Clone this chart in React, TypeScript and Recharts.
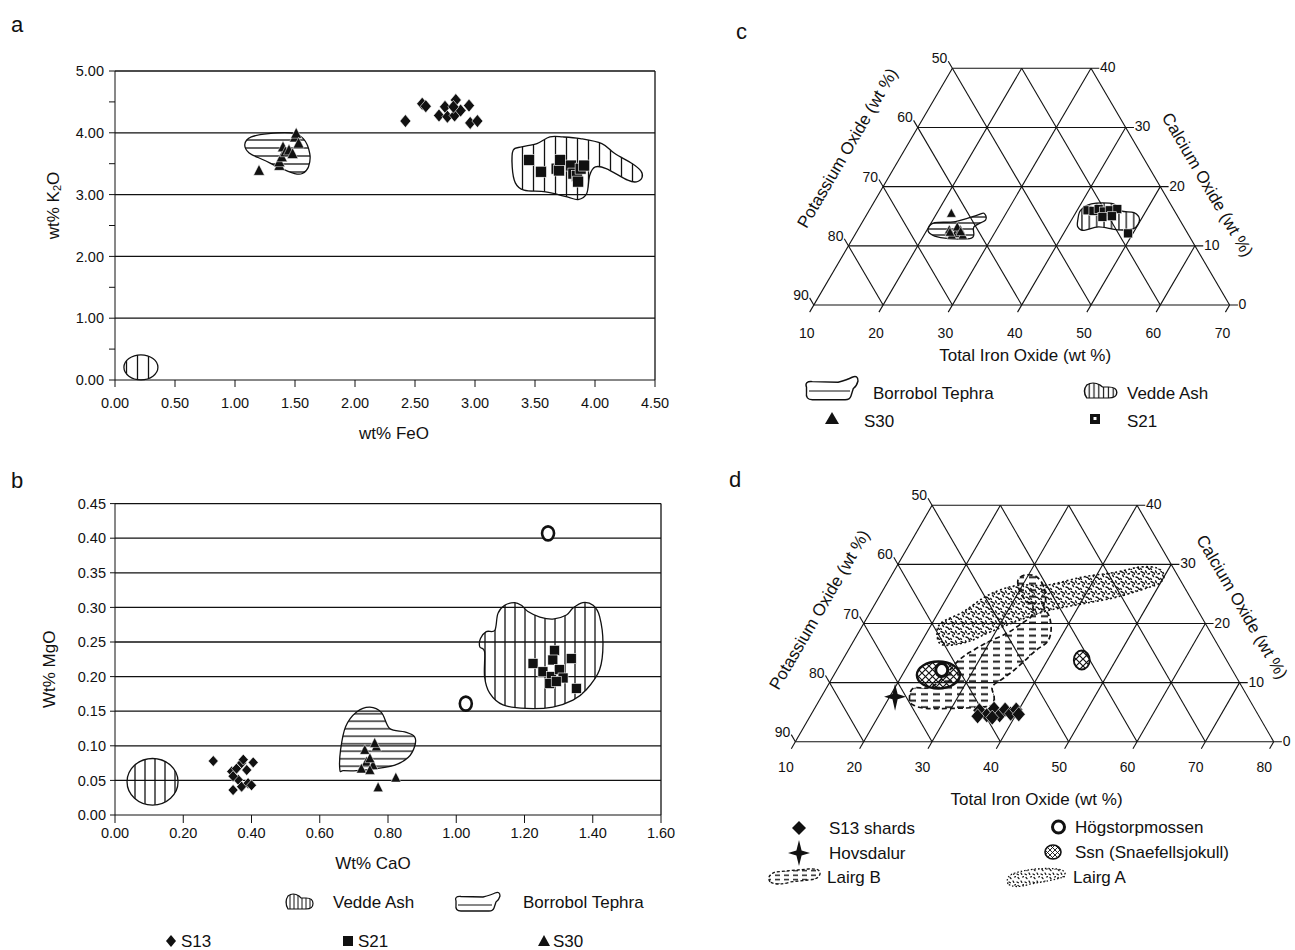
import React from 'react';
import { ScatterChart, Scatter, XAxis, YAxis, ReferenceLine, ReferenceDot } from 'recharts';

const FONT = '"Liberation Sans", Arial, Helvetica, sans-serif';
const INK = '#111';

type Pt = [number, number];

// ---------- panel a: K2O vs FeO (wt%)
const aFeoTicks = [0, 0.5, 1, 1.5, 2, 2.5, 3, 3.5, 4, 4.5];
const aK2oTicks = [0, 0.5, 1, 1.5, 2, 2.5, 3, 3.5, 4, 4.5, 5];
const aGridLines = [1, 2, 3, 4, 5];
const aS13: Pt[] = [[2.42, 4.19], [2.56, 4.47], [2.59, 4.43], [2.7, 4.28], [2.75, 4.42], [2.77, 4.26], [2.83, 4.28], [2.84, 4.53], [2.88, 4.36], [2.95, 4.44], [2.96, 4.16], [3.02, 4.19], [2.82, 4.42]];
const aS30: Pt[] = [[1.2, 3.39], [1.37, 3.47], [1.37, 3.53], [1.39, 3.61], [1.4, 3.77], [1.42, 3.69], [1.45, 3.72], [1.48, 3.66], [1.5, 3.93], [1.51, 3.99], [1.53, 3.83]];
const aS21: Pt[] = [[3.45, 3.56], [3.55, 3.37], [3.68, 3.42], [3.7, 3.39], [3.71, 3.56], [3.8, 3.47], [3.82, 3.34], [3.85, 3.3], [3.86, 3.21], [3.88, 3.42], [3.91, 3.47]];
const aBorrobol: Pt[] = [[1.082, 3.815], [1.136, 3.933], [1.28, 3.987], [1.461, 3.998], [1.569, 3.906], [1.623, 3.664], [1.612, 3.448], [1.561, 3.341], [1.497, 3.341], [1.388, 3.421], [1.244, 3.556], [1.118, 3.675]];
const aVedde: Pt[] = [[3.318, 3.718], [3.39, 3.772], [3.516, 3.825], [3.624, 3.933], [3.732, 3.933], [3.877, 3.906], [4.057, 3.825], [4.165, 3.664], [4.309, 3.502], [4.382, 3.384], [4.392, 3.276], [4.345, 3.206], [4.273, 3.233], [4.093, 3.421], [4.003, 3.448], [3.956, 3.314], [3.931, 3.017], [3.859, 2.92], [3.768, 2.963], [3.588, 3.044], [3.408, 3.071], [3.336, 3.19], [3.31, 3.448]];
const aVeddeLow: Pt[] = [[0.216, 0.205]];

// ---------- panel b: MgO vs CaO (wt%)
const bCaoTicks = [0, 0.2, 0.4, 0.6, 0.8, 1, 1.2, 1.4, 1.6];
const bMgoTicks = [0, 0.05, 0.1, 0.15, 0.2, 0.25, 0.3, 0.35, 0.4, 0.45];
const bS13: Pt[] = [[0.288, 0.078], [0.346, 0.036], [0.342, 0.063], [0.356, 0.067], [0.371, 0.075], [0.376, 0.08], [0.386, 0.065], [0.405, 0.076], [0.361, 0.051], [0.371, 0.041], [0.39, 0.046], [0.4, 0.043], [0.346, 0.056]];
const bS30: Pt[] = [[0.732, 0.094], [0.766, 0.099], [0.761, 0.104], [0.737, 0.077], [0.722, 0.067], [0.756, 0.072], [0.747, 0.065], [0.747, 0.082], [0.771, 0.04], [0.823, 0.054]];
const bS21: Pt[] = [[1.225, 0.219], [1.254, 0.207], [1.279, 0.2], [1.288, 0.238], [1.283, 0.224], [1.274, 0.19], [1.303, 0.21], [1.313, 0.198], [1.337, 0.226], [1.352, 0.183], [1.293, 0.193]];
const bBorrobol: Pt[] = [[0.659, 0.065], [0.661, 0.094], [0.676, 0.128], [0.708, 0.149], [0.747, 0.156], [0.781, 0.148], [0.805, 0.125], [0.849, 0.12], [0.878, 0.113], [0.878, 0.099], [0.859, 0.083], [0.82, 0.072], [0.766, 0.067], [0.708, 0.064], [0.669, 0.064]];
const bVedde: Pt[] = [[1.088, 0.265], [1.071, 0.255], [1.069, 0.243], [1.083, 0.236], [1.083, 0.2], [1.098, 0.176], [1.137, 0.159], [1.206, 0.154], [1.283, 0.156], [1.342, 0.166], [1.381, 0.181], [1.42, 0.21], [1.43, 0.248], [1.42, 0.287], [1.401, 0.303], [1.371, 0.307], [1.342, 0.299], [1.323, 0.289], [1.283, 0.283], [1.245, 0.286], [1.21, 0.294], [1.191, 0.303], [1.171, 0.307], [1.142, 0.303], [1.122, 0.291], [1.113, 0.267]];
const bVeddeLow: Pt[] = [[0.11, 0.048]];
const bOpen: Pt[] = [[1.269, 0.407], [1.028, 0.161]];

// ---------- panel c: ternary, points as [FeO, CaO] (K2O = 100 - FeO - CaO)
const cFeTicks = [10, 20, 30, 40, 50, 60, 70];
const cCaTicks = [0, 10, 20, 30, 40];
const cKTicks = [90, 80, 70, 60, 50];
const cS30: Pt[] = [[22.1, 15.5], [23.2, 12.7], [24.4, 12.1], [24.8, 12.7], [24.0, 11.8], [25.6, 11.8], [24.1, 13.2], [23.5, 12.3], [25.0, 12.4]];
const cS21: Pt[] = [[41.5, 16.0], [42.4, 15.9], [43.0, 16.2], [44.0, 15.8], [44.7, 16.0], [45.7, 16.2], [44.2, 14.9], [45.5, 15.0], [49.3, 12.1]];
const cBorrobol: Pt[] = [[20.0, 13.1], [20.5, 13.9], [23.4, 14.1], [26.0, 15.2], [26.8, 15.5], [27.6, 14.4], [26.5, 13.2], [27.1, 11.3], [22.6, 11.4], [20.7, 12.1]];
const cVedde: Pt[] = [[40.9, 14.4], [40.5, 16.0], [41.5, 17.1], [44.7, 17.1], [46.4, 15.9], [48.4, 15.6], [49.8, 14.4], [49.7, 12.9], [47.5, 12.7], [44.5, 13.2], [42.7, 12.6], [41.5, 13.2]];

// ---------- panel d: ternary, points as [FeO, CaO]
const dFeTicks = [10, 20, 30, 40, 50, 60, 70, 80];
const dCaTicks = [0, 10, 20, 30, 40];
const dKTicks = [90, 80, 70, 60, 50];
const dS13: Pt[] = [[34.27, 5.31], [35.77, 4.47], [36.28, 5.59], [37.65, 4.47], [37.98, 5.43], [39.13, 4.75], [39.6, 5.43], [40.37, 4.64], [34.51, 4.31], [36.77, 4.08]];
const dHovsdalur: Pt[] = [[20.78, 7.61]];
const dHogstorp: Pt[] = [[25.35, 12.13]];
const dSsnField: Pt[] = [[25.28, 11.29]];
const dSsn: Pt[] = [[45.0, 13.82]];
const dLairgA: Pt[] = [[21.7, 18.05], [21.27, 20.08], [23.55, 21.95], [25.3, 24.31], [27.11, 25.67], [29.61, 26.51], [33.56, 26.51], [38.15, 27.87], [42.71, 28.71], [45.65, 29.56], [48.22, 29.39], [49.84, 28.21], [49.94, 26.85], [48.45, 26.01], [44.83, 24.48], [40.94, 23.47], [37.41, 22.63], [35.26, 21.95], [32.57, 20.59], [29.2, 18.56], [26.67, 16.87], [23.42, 16.36]];
const dLairgB: Pt[] = [[23.17, 7.06], [22.72, 9.04], [25.49, 9.42], [27.05, 13.82], [28.36, 15.52], [29.81, 16.92], [31.8, 18.34], [33.11, 20.03], [33.9, 21.15], [33.31, 22.84], [31.67, 23.98], [30.17, 25.38], [28.9, 27.36], [29.56, 28.21], [31.31, 27.92], [33.24, 26.23], [34.63, 23.98], [34.93, 22.84], [36.59, 21.15], [37.97, 18.9], [38.43, 16.92], [37.51, 15.52], [36.75, 13.82], [35.98, 12.13], [35.07, 10.73], [34.17, 9.31], [35.28, 7.61], [35.72, 6.21], [33.74, 5.82], [30.61, 5.65], [26.29, 5.65], [24.14, 6.21]];

// ---------- helpers
const xy = (p: Pt[]) => p.map(([x, y]) => ({ x, y }));
const tern1 = ([fe, ca]: Pt) => ({ x: fe + ca / 2, y: ca });
const tern = (p: Pt[]) => p.map(tern1);

function smoothClosed(pts: { x: number; y: number }[]) {
  const n = pts.length;
  if (!n) return '';
  let d = `M${pts[0].x},${pts[0].y}`;
  for (let i = 0; i < n; i++) {
    const p0 = pts[(i - 1 + n) % n];
    const p1 = pts[i];
    const p2 = pts[(i + 1) % n];
    const p3 = pts[(i + 2) % n];
    d += `C${p1.x + (p2.x - p0.x) / 6},${p1.y + (p2.y - p0.y) / 6} ${p2.x - (p3.x - p1.x) / 6},${p2.y - (p3.y - p1.y) / 6} ${p2.x},${p2.y}`;
  }
  return d + 'Z';
}

const none = () => <g />;
const diamond = (w: number, h: number) => (p: any) => (
  <path d={`M${p.cx},${p.cy - h}L${p.cx + w},${p.cy}L${p.cx},${p.cy + h}L${p.cx - w},${p.cy}Z`} fill={INK} stroke="#fff" strokeWidth={0.6} />
);
const square = (s: number) => (p: any) => (
  <rect x={p.cx - s} y={p.cy - s} width={2 * s} height={2 * s} fill={INK} stroke="#fff" strokeWidth={0.6} />
);
const triangle = (w: number, h: number) => (p: any) => (
  <path d={`M${p.cx},${p.cy - h}L${p.cx + w},${p.cy + h * 0.8}L${p.cx - w},${p.cy + h * 0.8}Z`} fill={INK} stroke="#fff" strokeWidth={0.5} />
);
const ellipse = (rx: number, ry: number, fill: string, sw = 1.3) => (p: any) => (
  <ellipse cx={p.cx} cy={p.cy} rx={rx} ry={ry} fill={fill} stroke={INK} strokeWidth={sw} />
);
const star = (p: any) => (
  <path
    d={`M${p.cx},${p.cy - 13}L${p.cx + 2.6},${p.cy - 2.6}L${p.cx + 11},${p.cy}L${p.cx + 2.6},${p.cy + 2.6}L${p.cx},${p.cy + 14}L${p.cx - 2.6},${p.cy + 2.6}L${p.cx - 11},${p.cy}L${p.cx - 2.6},${p.cy - 2.6}Z`}
    fill={INK}
  />
);
const blob = (fill: string, dash?: string, sw = 1.3) => (lp: any) => (
  <path d={smoothClosed(lp.points || [])} fill={fill} stroke={INK} strokeWidth={sw} strokeDasharray={dash} />
);

const title = (content: React.ReactNode, dx: number, dy: number, angle = 0) => (props: any) => {
  const vb = props.viewBox || { x: 0, y: 0, width: 0, height: 0 };
  const cx = vb.x + vb.width / 2 + dx;
  const cy = vb.y + vb.height / 2 + dy;
  return (
    <text x={cx} y={cy} textAnchor="middle" dominantBaseline="central" fontSize={17} fontFamily={FONT} fill={INK}
      transform={angle ? `rotate(${angle} ${cx} ${cy})` : undefined}>
      {content}
    </text>
  );
};

const dotText = (text: string, dx: number, dy: number, anchor: string, size: number, angle = 0) => (p: any) => {
  const x = p.cx + dx;
  const y = p.cy + dy;
  return (
    <text x={x} y={y} textAnchor={anchor} dominantBaseline="central" fontSize={size} fontFamily={FONT} fill={INK}
      transform={angle ? `rotate(${angle} ${x} ${y})` : undefined}>
      {text}
    </text>
  );
};

function ternaryGrid(feTicks: number[], caTicks: number[]) {
  const feMin = feTicks[0];
  const sMax = feTicks[feTicks.length - 1];
  const caMax = caTicks[caTicks.length - 1];
  const e = 1.2;
  const segs: [Pt, Pt][] = [];
  caTicks.forEach((ca) => segs.push([[feMin, ca], [sMax - ca + e, ca]]));
  feTicks.forEach((fe) => segs.push([[fe, -e], [fe, Math.min(caMax, sMax - fe)]]));
  feTicks.forEach((s) => {
    if (s - feMin <= caMax) segs.push([[s, 0], [feMin - e, s - feMin + e]]);
    else segs.push([[s, 0], [s - caMax, caMax]]);
  });
  return segs.map(([p, q]) => [tern1(p), tern1(q)]);
}

const tickStyle = { fontSize: 14.5, fill: INK, fontFamily: FONT };
const K2O = (
  <>
    <tspan>wt% K</tspan>
    <tspan fontSize={11} dy={4}>2</tspan>
    <tspan dy={-4}>O</tspan>
  </>
);

function HatchDefs({ id, v, h }: { id: string; v: number; h: number }) {
  return (
    <defs>
      <pattern id={`${id}-v`} width={v} height={10} patternUnits="userSpaceOnUse">
        <line x1={v / 2} y1={0} x2={v / 2} y2={10} stroke={INK} strokeWidth={1.3} />
      </pattern>
      <pattern id={`${id}-h`} width={10} height={h} patternUnits="userSpaceOnUse">
        <line x1={0} y1={h / 2} x2={10} y2={h / 2} stroke={INK} strokeWidth={1.3} />
      </pattern>
    </defs>
  );
}

function PanelA() {
  return (
    <div style={{ position: 'absolute', left: 0, top: 40 }}>
      <ScatterChart width={680} height={415} margin={{ top: 31, right: 25, left: 55, bottom: 0 }}>
        <HatchDefs id="pa" v={11} h={8} />
        <XAxis type="number" dataKey="x" domain={[0, 4.5]} ticks={aFeoTicks} interval={0} height={75}
          tickFormatter={(v: number) => v.toFixed(2)} stroke={INK} tickSize={7} tickMargin={11} tick={tickStyle}
          label={title('wt% FeO', 9, 15.5)} />
        <YAxis type="number" dataKey="y" domain={[0, 5]} ticks={aK2oTicks} interval={0} width={60}
          tickFormatter={(v: number) => (v % 1 === 0 ? v.toFixed(2) : '')} stroke={INK} tickSize={6} tickMargin={5} tick={tickStyle}
          label={title(K2O, -32, -20, -90)} />
        {aGridLines.map((v) => (
          <ReferenceLine key={v} y={v} stroke={INK} strokeWidth={1.3} />
        ))}
        <ReferenceLine x={4.5} stroke={INK} strokeWidth={1.3} />
        <Scatter data={xy(aBorrobol)} isAnimationActive={false} shape={none} line={blob('url(#pa-h)')} />
        <Scatter data={xy(aVedde)} isAnimationActive={false} shape={none} line={blob('url(#pa-v)')} />
        <Scatter data={xy(aVeddeLow)} isAnimationActive={false} shape={ellipse(17, 12.5, 'url(#pa-v)')} />
        <Scatter data={xy(aS13)} isAnimationActive={false} shape={diamond(5.5, 6.5)} />
        <Scatter data={xy(aS30)} isAnimationActive={false} shape={triangle(5.5, 6)} />
        <Scatter data={xy(aS21)} isAnimationActive={false} shape={square(5.5)} />
      </ScatterChart>
    </div>
  );
}

function PanelB() {
  return (
    <div style={{ position: 'absolute', left: 0, top: 470 }}>
      <ScatterChart width={680} height={415} margin={{ top: 33.6, right: 19, left: 55, bottom: 0 }}>
        <HatchDefs id="pb" v={10} h={7.5} />
        <XAxis type="number" dataKey="x" domain={[0, 1.6]} ticks={bCaoTicks} interval={0} height={70}
          tickFormatter={(v: number) => v.toFixed(2)} stroke={INK} tickSize={8} tickMargin={5} tick={tickStyle}
          label={title('Wt% CaO', -15, 13)} />
        <YAxis type="number" dataKey="y" domain={[0, 0.45]} ticks={bMgoTicks} interval={0} width={60}
          tickFormatter={(v: number) => v.toFixed(2)} stroke={INK} tickSize={5} tickMargin={4} tick={tickStyle}
          label={title('Wt% MgO', -35, 10, -90)} />
        {bMgoTicks.slice(1).map((v) => (
          <ReferenceLine key={v} y={v} stroke={INK} strokeWidth={1.3} />
        ))}
        <ReferenceLine x={1.6} stroke={INK} strokeWidth={1.3} />
        <Scatter data={xy(bVedde)} isAnimationActive={false} shape={none} line={blob('url(#pb-v)')} />
        <Scatter data={xy(bBorrobol)} isAnimationActive={false} shape={none} line={blob('url(#pb-h)')} />
        <Scatter data={xy(bVeddeLow)} isAnimationActive={false} shape={ellipse(25.5, 23.3, 'url(#pb-v)')} />
        <Scatter data={xy(bOpen)} isAnimationActive={false} shape={ellipse(6, 7, '#fff', 2.6)} />
        <Scatter data={xy(bS13)} isAnimationActive={false} shape={diamond(5, 5.5)} />
        <Scatter data={xy(bS30)} isAnimationActive={false} shape={triangle(5, 5.5)} />
        <Scatter data={xy(bS21)} isAnimationActive={false} shape={square(5)} />
      </ScatterChart>
    </div>
  );
}

function TernaryFrame({ feTicks, caTicks, kTicks, bottomDx, bottomDy }: any) {
  const feMin = feTicks[0];
  const sMax = feTicks[feTicks.length - 1];
  return (
    <>
      {ternaryGrid(feTicks, caTicks).map(([p, q], i) => (
        <ReferenceLine key={`g${i}`} segment={[p, q]} stroke={INK} strokeWidth={1.1} ifOverflow="visible" />
      ))}
      {feTicks.map((fe: number) => (
        <ReferenceDot key={`b${fe}`} {...tern1([fe, 0])} r={1} ifOverflow="visible" shape={dotText(String(fe), bottomDx, bottomDy, 'middle', 14)} />
      ))}
      {caTicks.map((ca: number, i: number) => (
        <ReferenceDot key={`l${ca}`} {...tern1([feMin, ca])} r={1} ifOverflow="visible" shape={dotText(String(kTicks[i]), -5, -10, 'end', 14)} />
      ))}
      {caTicks.map((ca: number) => (
        <ReferenceDot key={`r${ca}`} {...tern1([sMax - ca, ca])} r={1} ifOverflow="visible" shape={dotText(String(ca), 9, -1, 'start', 14)} />
      ))}
    </>
  );
}

function PanelC() {
  return (
    <div style={{ position: 'absolute', left: 760, top: 40 }}>
      <ScatterChart width={520} height={400} margin={{ top: 28.3, right: 50.4, left: 53.8, bottom: 135 }}>
        <HatchDefs id="pc" v={7.4} h={6} />
        <XAxis type="number" dataKey="x" domain={[10, 70]} hide />
        <YAxis type="number" dataKey="y" domain={[0, 40]} hide />
        {TernaryFrame({ feTicks: cFeTicks, caTicks: cCaTicks, kTicks: cKTicks, bottomDx: -7, bottomDy: 28 })}
        <ReferenceDot {...tern1([40.5, 0])} r={1} ifOverflow="visible" shape={dotText('Total Iron Oxide (wt %)', 0, 50, 'middle', 17)} />
        <ReferenceDot {...tern1([10, 26.5])} r={1} ifOverflow="visible" shape={dotText('Potassium Oxide (wt %)', -58, 0, 'middle', 17, -59.7)} />
        <ReferenceDot {...tern1([49.7, 20.3])} r={1} ifOverflow="visible" shape={dotText('Calcium Oxide (wt %)', 48, 0, 'middle', 17, 59.7)} />
        <Scatter data={tern(cBorrobol)} isAnimationActive={false} shape={none} line={blob('url(#pc-h)')} />
        <Scatter data={tern(cVedde)} isAnimationActive={false} shape={none} line={blob('url(#pc-v)')} />
        <Scatter data={tern(cS30)} isAnimationActive={false} shape={triangle(4.8, 5)} />
        <Scatter data={tern(cS21)} isAnimationActive={false} shape={square(4.5)} />
      </ScatterChart>
    </div>
  );
}

function PanelD() {
  return (
    <div style={{ position: 'absolute', left: 740, top: 470 }}>
      <ScatterChart width={555} height={350} margin={{ top: 35.3, right: 21.3, left: 55.4, bottom: 78.3 }}>
        <defs>
          <pattern id="pd-dash" width={12} height={6.5} patternUnits="userSpaceOnUse">
            <line x1={1} y1={3.2} x2={8} y2={3.2} stroke={INK} strokeWidth={1.9} />
          </pattern>
          <pattern id="pd-dot" width={10} height={10} patternUnits="userSpaceOnUse">
            <path d="M1,1.5 l1.8,0.9 M5.5,0.8 l0.9,1.8 M8,4 l1.8,-0.5 M2.5,5 l1,1.6 M6,7 l1.8,0.7 M0.8,8.5 l0.7,1.4 M8.5,8.6 l1.2,1 M4,3 l0.4,1.4" stroke={INK} strokeWidth={1.4} strokeLinecap="round" />
          </pattern>
          <pattern id="pd-x" width={7} height={7} patternUnits="userSpaceOnUse">
            <path d="M0,0L7,7M7,0L0,7" stroke={INK} strokeWidth={1.2} />
          </pattern>
        </defs>
        <XAxis type="number" dataKey="x" domain={[10, 80]} hide />
        <YAxis type="number" dataKey="y" domain={[0, 40]} hide />
        {TernaryFrame({ feTicks: dFeTicks, caTicks: dCaTicks, kTicks: dKTicks, bottomDx: -9.5, bottomDy: 25 })}
        <ReferenceDot {...tern1([45.3, 0])} r={1} ifOverflow="visible" shape={dotText('Total Iron Oxide (wt %)', 0, 58, 'middle', 17)} />
        <ReferenceDot {...tern1([10, 22.3])} r={1} ifOverflow="visible" shape={dotText('Potassium Oxide (wt %)', -52, 0, 'middle', 17, -59.7)} />
        <ReferenceDot {...tern1([57.2, 22.8])} r={1} ifOverflow="visible" shape={dotText('Calcium Oxide (wt %)', 46, 0, 'middle', 17, 59.7)} />
        <Scatter data={tern(dLairgA)} isAnimationActive={false} shape={none} line={blob('url(#pd-dot)', '2 2.5', 1.6)} />
        <Scatter data={tern(dLairgB)} isAnimationActive={false} shape={none} line={blob('url(#pd-dash)', '5 3', 1.7)} />
        <Scatter data={tern(dSsnField)} isAnimationActive={false} shape={ellipse(21.5, 13.5, 'url(#pd-x)', 2.4)} />
        <Scatter data={tern(dHogstorp)} isAnimationActive={false} shape={ellipse(6, 6.5, '#fff', 3)} />
        <Scatter data={tern(dSsn)} isAnimationActive={false} shape={ellipse(8, 9.5, 'url(#pd-x)', 1.8)} />
        <Scatter data={tern(dHovsdalur)} isAnimationActive={false} shape={star} />
        <Scatter data={tern(dS13)} isAnimationActive={false} shape={diamond(6.5, 7.5)} />
      </ScatterChart>
    </div>
  );
}

const txt = (x: number, y: number, s: string, size = 17) => (
  <text x={x} y={y} dominantBaseline="central" fontSize={size} fontFamily={FONT} fill={INK}>{s}</text>
);

const veddeIcon = 'M4,16 Q0,9 4,3 Q9,-1 15,3 L17,5 L22,5 Q29,5 29,10.5 Q29,16 22,16 Z';
const borrobolIcon = 'M3,9 Q1,4 8,4.5 L30,5 Q38,3 42,1 Q47,-1 47,4 Q46,8 43,10 L41,16 Q40,19 36,19 L8,19 Q2,19 3,13 Z';

function Overlay() {
  return (
    <svg width={1295} height={950} style={{ position: 'absolute', left: 0, top: 0, pointerEvents: 'none' }}>
      <defs>
        <pattern id="lg-v" width={4} height={10} patternUnits="userSpaceOnUse">
          <line x1={2} y1={0} x2={2} y2={10} stroke={INK} strokeWidth={1} />
        </pattern>
        <pattern id="lg-dash" width={9} height={4.5} patternUnits="userSpaceOnUse">
          <line x1={1} y1={2.2} x2={6} y2={2.2} stroke={INK} strokeWidth={1.4} />
        </pattern>
        <pattern id="lg-dot" width={8} height={8} patternUnits="userSpaceOnUse">
          <path d="M1,2 l1.4,0.8 M5,1 l0.8,1.4 M6.5,5 l1.4,-0.4 M2,5.5 l1,1.2" stroke={INK} strokeWidth={1.2} strokeLinecap="round" />
        </pattern>
        <pattern id="lg-x" width={5} height={5} patternUnits="userSpaceOnUse">
          <path d="M0,0L5,5M5,0L0,5" stroke={INK} strokeWidth={0.9} />
        </pattern>
      </defs>
      <text x={11} y={32} fontSize={22} fontFamily={FONT} fill={INK}>a</text>
      <text x={11} y={488} fontSize={22} fontFamily={FONT} fill={INK}>b</text>
      <text x={736} y={38.5} fontSize={22} fontFamily={FONT} fill={INK}>c</text>
      <text x={729} y={487} fontSize={22} fontFamily={FONT} fill={INK}>d</text>

      {/* legend b */}
      <path d={veddeIcon} transform="translate(284,893)" fill="url(#lg-v)" stroke={INK} strokeWidth={1.2} />
      {txt(333, 902, 'Vedde Ash')}
      <path d={borrobolIcon} transform="translate(453,892)" fill="#fff" stroke={INK} strokeWidth={1.3} />
      <path d="M458,905 L492,905" stroke={INK} strokeWidth={1} />
      {txt(523, 902, 'Borrobol Tephra')}
      <path d="M171,935 L176,941 L171,947 L166,941 Z" fill={INK} />
      {txt(181, 941, 'S13')}
      <rect x={343} y={936} width={10} height={10} fill={INK} />
      {txt(358, 941, 'S21')}
      <path d="M544,935 L550,946 L538,946 Z" fill={INK} />
      {txt(553, 941, 'S30')}

      {/* legend c */}
      <path d={borrobolIcon} transform="translate(803,376) scale(1.17,1.25)" fill="#fff" stroke={INK} strokeWidth={1.2} />
      <path d="M809,391 L850,391" stroke={INK} strokeWidth={1} />
      {txt(873, 393, 'Borrobol Tephra')}
      <path d={veddeIcon} transform="translate(1082,382) scale(1.2,1.0)" fill="url(#lg-v)" stroke={INK} strokeWidth={1.2} />
      {txt(1127, 393, 'Vedde Ash')}
      <path d="M832,412 L839,424 L825,424 Z" fill={INK} />
      {txt(864, 421, 'S30')}
      <rect x={1090} y={414} width={10} height={10} fill={INK} />
      <rect x={1093.5} y={417} width={3} height={3} fill="#fff" />
      {txt(1127, 421, 'S21')}

      {/* legend d */}
      <path d="M799,821 L806,828 L799,835 L792,828 Z" fill={INK} />
      {txt(829, 828, 'S13 shards')}
      <circle cx={1058.5} cy={827} r={6} fill="#fff" stroke={INK} strokeWidth={3} />
      {txt(1075, 827, 'Högstorpmossen')}
      <path d="M799,840 L801.6,850.4 L810,853 L801.6,855.6 L799,866 L796.4,855.6 L788,853 L796.4,850.4 Z" fill={INK} />
      {txt(829, 853, 'Hovsdalur')}
      <ellipse cx={1053} cy={852} rx={8} ry={7} fill="url(#lg-x)" stroke={INK} strokeWidth={1.6} />
      {txt(1075, 852, 'Ssn (Snaefellsjokull)')}
      <path d="M770,882 Q766,876 775,872 L808,869 Q821,868 820,874 Q818,880 808,880 L790,882 Q778,886 770,882 Z" fill="url(#lg-dash)" stroke={INK} strokeWidth={1.3} strokeDasharray="3 2" />
      {txt(827, 877, 'Lairg B')}
      <path d="M1008,884 Q1005,876 1015,873 Q1035,867 1058,869 Q1068,871 1064,877 Q1050,881 1030,884 Q1015,889 1008,884 Z" fill="url(#lg-dot)" stroke={INK} strokeWidth={1.3} strokeDasharray="1.5 2" />
      {txt(1073, 877, 'Lairg A')}
    </svg>
  );
}

export default function App() {
  return (
    <div style={{ position: 'absolute', left: 0, top: 0, width: 1295, height: 950, background: '#fff', fontFamily: FONT }}>
      <PanelA />
      <PanelB />
      <PanelC />
      <PanelD />
      <Overlay />
    </div>
  );
}
